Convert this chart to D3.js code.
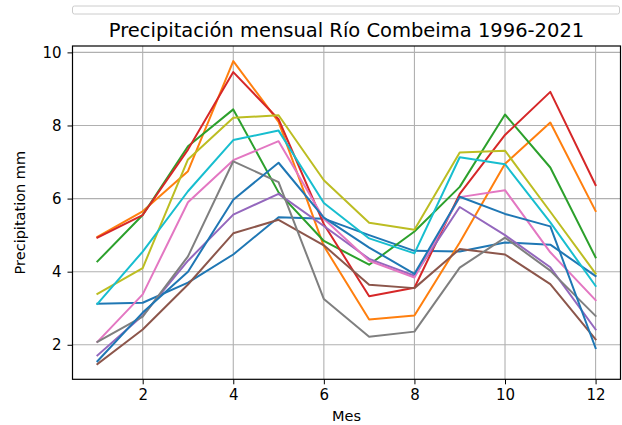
<!DOCTYPE html>
<html>
<head>
<meta charset="utf-8">
<script src="https://cdn.jsdelivr.net/npm/d3@7"></script>
<style>
  body { margin: 0; background: #fff; }
  text { font-family: "DejaVu Sans", sans-serif; fill: #000; }
</style>
</head>
<body>
<div id="my_dataviz"></div>
<script>
var months = [1, 2, 3, 4, 5, 6, 7, 8, 9, 10, 11, 12];
var xTicks = [2, 4, 6, 8, 10, 12];
var yTicks = [2, 4, 6, 8, 10];

// one array per line, in plotting order
var serie1 = [3.12, 3.15, 3.7, 4.47, 5.49, 5.45, 5.0, 4.57, 4.55, 4.8, 4.74, 3.88];
var serie2 = [4.95, 5.65, 6.75, 9.76, 8.1, 4.7, 2.69, 2.8, 4.8, 6.95, 8.08, 5.66];
var serie3 = [4.28, 5.55, 7.43, 8.44, 6.17, 4.84, 4.19, 5.1, 6.32, 8.3, 6.85, 4.39];
var serie4 = [4.93, 5.55, 7.34, 9.46, 8.17, 5.3, 3.33, 3.56, 6.13, 7.74, 8.92, 6.37];
var serie5 = [1.71, 2.8, 4.3, 5.56, 6.13, 5.25, 4.35, 3.89, 5.77, 5.0, 4.12, 2.42];
var serie6 = [1.47, 2.42, 3.65, 5.05, 5.42, 4.72, 3.64, 3.55, 4.62, 4.47, 3.66, 2.15];
var serie7 = [2.08, 3.38, 5.9, 7.05, 7.57, 5.45, 4.3, 3.84, 6.04, 6.23, 4.53, 3.22];
var serie8 = [2.08, 2.77, 4.42, 7.02, 6.45, 3.25, 2.22, 2.36, 4.11, 4.93, 4.03, 2.79];
var serie9 = [3.39, 4.1, 7.07, 8.21, 8.28, 6.5, 5.34, 5.15, 7.26, 7.31, 5.64, 3.95];
var serie10 = [3.12, 4.55, 6.2, 7.6, 7.86, 5.88, 4.91, 4.5, 7.13, 6.94, 5.35, 3.61];
var serie11 = [1.55, 2.88, 4.0, 5.97, 6.98, 5.48, 4.66, 3.94, 6.05, 5.58, 5.24, 1.91];

var series = [serie1, serie2, serie3, serie4, serie5, serie6, serie7, serie8, serie9, serie10, serie11];

var colors = ["#1f77b4", "#ff7f0e", "#2ca02c", "#d62728", "#9467bd",
  "#8c564b", "#e377c2", "#7f7f7f", "#bcbd22", "#17becf"];

var margin = { top: 46, right: 1.5, bottom: 45.7, left: 72.5 },
  width = 622 - margin.left - margin.right,
  height = 425 - margin.top - margin.bottom;

var root = d3.select("#my_dataviz")
  .append("svg")
  .attr("width", 622)
  .attr("height", 425);

// thin rounded box at the very top (cut legend frame)
root.append("rect")
  .attr("x", margin.left)
  .attr("y", 6)
  .attr("width", width - 1)
  .attr("height", 8)
  .attr("rx", 2)
  .attr("fill", "#fff")
  .attr("stroke", "#cccccc")
  .attr("stroke-width", 1);

var svg = root.append("g")
  .attr("transform", "translate(" + margin.left + "," + margin.top + ")");

// matplotlib-like 5% margins
var allVals = d3.merge(series);
var yMin = d3.min(allVals), yMax = d3.max(allVals);
var yPad = (yMax - yMin) * 0.05;
var xPad = (12 - 1) * 0.05;

var x = d3.scaleLinear()
  .domain([1 - xPad, 12 + xPad])
  .range([0, width]);

var y = d3.scaleLinear()
  .domain([yMin - yPad, yMax + yPad])
  .range([height, 0]);

// grid
svg.append("g")
  .selectAll("line")
  .data(xTicks)
  .enter().append("line")
  .attr("x1", function (d) { return x(d); })
  .attr("x2", function (d) { return x(d); })
  .attr("y1", 0)
  .attr("y2", height)
  .attr("stroke", "#b0b0b0")
  .attr("stroke-width", 1.1);

svg.append("g")
  .selectAll("line")
  .data(yTicks)
  .enter().append("line")
  .attr("x1", 0)
  .attr("x2", width)
  .attr("y1", function (d) { return y(d); })
  .attr("y2", function (d) { return y(d); })
  .attr("stroke", "#b0b0b0")
  .attr("stroke-width", 1.1);

// lines
var line = d3.line()
  .x(function (d, i) { return x(months[i]); })
  .y(function (d) { return y(d); });

svg.append("g")
  .selectAll("path")
  .data(series)
  .enter().append("path")
  .attr("d", line)
  .attr("fill", "none")
  .attr("stroke", function (d, i) { return colors[i % colors.length]; })
  .attr("stroke-width", 2)
  .attr("stroke-linejoin", "round")
  .attr("stroke-linecap", "square");

// axes
var xAxis = svg.append("g")
  .attr("transform", "translate(0," + height + ")")
  .call(d3.axisBottom(x).tickValues(xTicks).tickSize(5).tickPadding(5));

var yAxis = svg.append("g")
  .call(d3.axisLeft(y).tickValues(yTicks).tickSize(5).tickPadding(6));

[xAxis, yAxis].forEach(function (a) {
  a.select(".domain").remove();
  a.selectAll("line").attr("stroke", "#000").attr("stroke-width", 1);
  a.selectAll("text").style("font-size", "15px").style("font-family", "DejaVu Sans");
});

// frame
svg.append("rect")
  .attr("width", width)
  .attr("height", height)
  .attr("fill", "none")
  .attr("stroke", "#000")
  .attr("stroke-width", 1.2);

// title and labels
svg.append("text")
  .attr("x", width / 2)
  .attr("y", -9)
  .style("text-anchor", "middle")
  .style("font-size", "19.5px")
  .text("Precipitación mensual Río Combeima 1996-2021");

svg.append("text")
  .attr("x", width / 2)
  .attr("y", height + 42)
  .style("text-anchor", "middle")
  .style("font-size", "14.5px")
  .text("Mes");

svg.append("text")
  .attr("transform", "rotate(-90)")
  .attr("x", 0 - (height / 2))
  .attr("y", -48)
  .style("text-anchor", "middle")
  .style("font-size", "14.5px")
  .text("Precipitation mm");
</script>
</body>
</html>
